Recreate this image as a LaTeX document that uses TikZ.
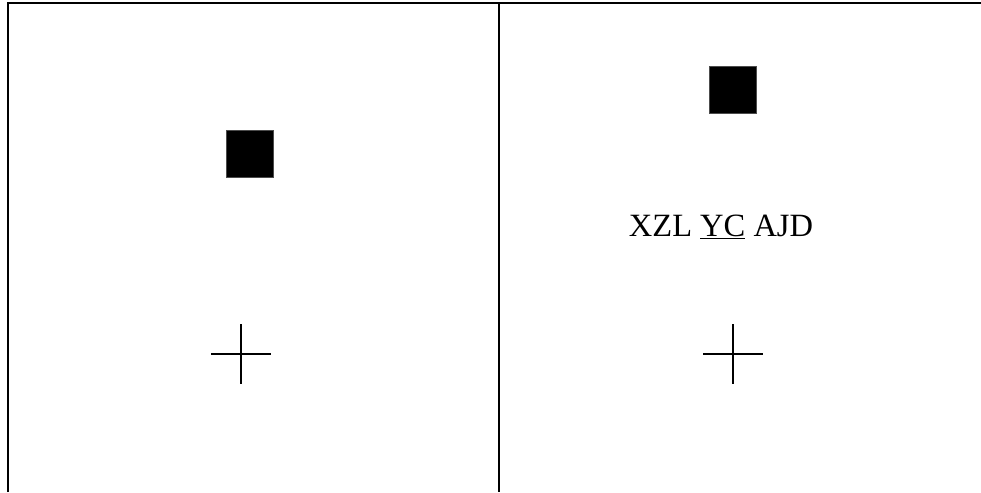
\documentclass[tikz,border=0pt]{standalone}
\usepackage{fontspec}
\setmainfont{Liberation Serif}
\usepackage{tikz}
\usetikzlibrary{calc,positioning}

\begin{document}
\begin{tikzpicture}[x=1pt,y=-1pt,
      frame/.style={line width=1.6pt,black},
      blk/.style={fill=black,draw=black!70,minimum size=47pt,inner sep=0pt},
      fix/.style={line width=1.8pt,black},
      stim/.style={font=\fontsize{32.5}{36}\selectfont,inner sep=0pt,anchor=base}]
    \useasboundingbox (0,0) rectangle (981,492);
    % panel frame
    \draw[frame] (8,492) -- (8,3) -- (981,3);
    \draw[frame] (499,3) -- (499,492);
    % left panel
    \node[blk] (sqL) at (249.5,153.5) {};
    \coordinate (fixL) at (241,354);
    \draw[fix] ($(fixL)+(-30,0)$) -- ($(fixL)+(30,0)$);
    \draw[fix] ($(fixL)+(0,-30)$) -- ($(fixL)+(0,30)$);
    % right panel
    \node[blk] (sqR) at (733,89.5) {};
    \node[stim] (word) at (721,236) {XZL \underline{YC} AJD};
    \coordinate (fixR) at (733,354);
    \draw[fix] ($(fixR)+(-30,0)$) -- ($(fixR)+(30,0)$);
    \draw[fix] ($(fixR)+(0,-30)$) -- ($(fixR)+(0,30)$);
  \end{tikzpicture}
\end{document}
